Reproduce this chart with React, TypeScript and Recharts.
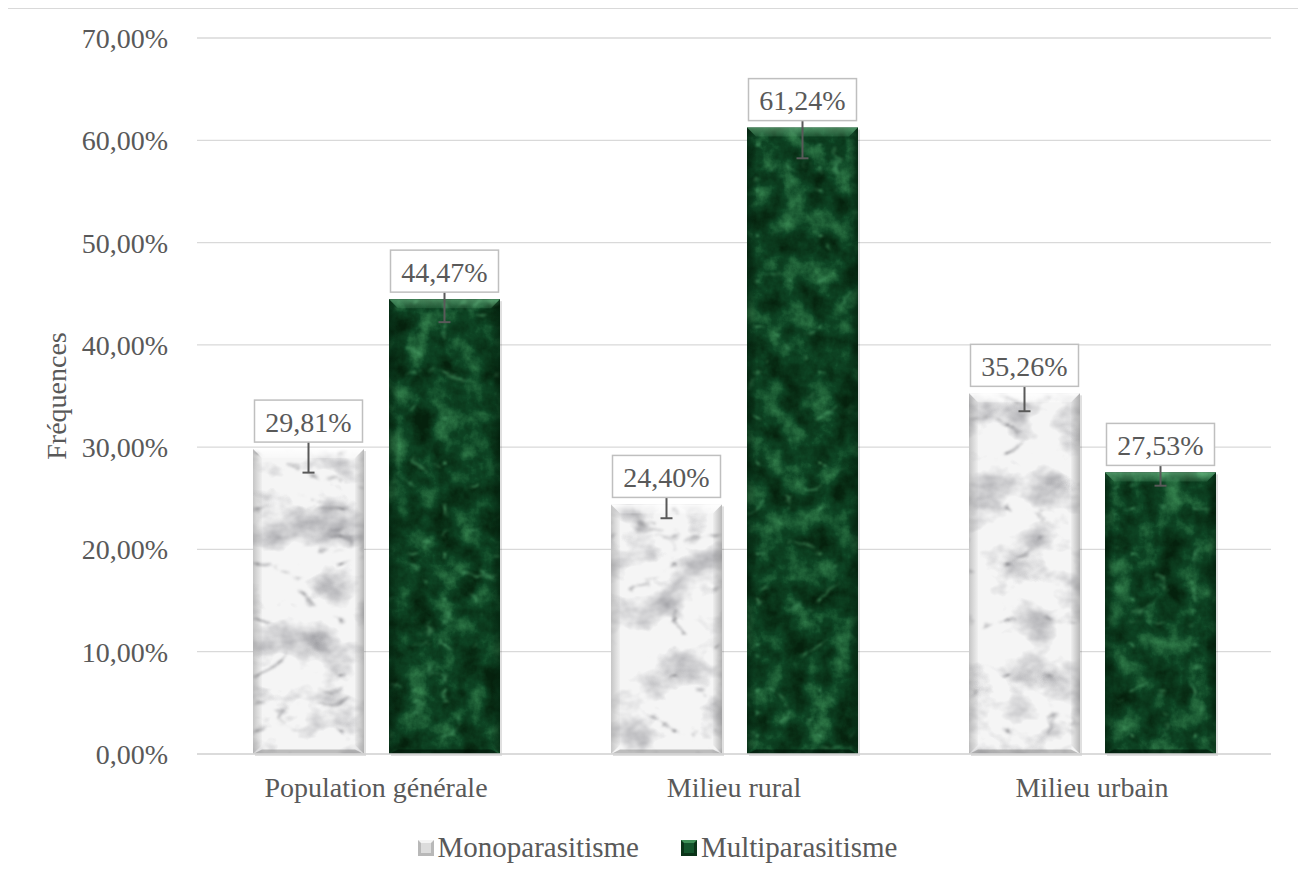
import { BarChart, Bar, XAxis, YAxis, CartesianGrid, Legend, LabelList, ErrorBar } from 'recharts';

const categories = ['Population générale', 'Milieu rural', 'Milieu urbain'];
const monoValues = [29.81, 24.4, 35.26];
const multiValues = [44.47, 61.24, 27.53];
const monoErrors = [2.3, 1.35, 1.75];
const multiErrors = [2.25, 3.0, 1.3];
const yTicks = [0, 10, 20, 30, 40, 50, 60, 70];

const data = categories.map((name, i) => ({
    name,
    mono: monoValues[i],
    multi: multiValues[i],
    monoErr: monoErrors[i],
    multiErr: multiErrors[i],
}));

const FONT = "'Liberation Serif', 'Times New Roman', serif";
const TEXT = '#595959';

const fmt = (v: number) => v.toFixed(2).replace('.', ',') + '%';

const styles = {
    white: {
        base: '#f2f2f2',
        filter: 'url(#marble-white)',
        top: 'url(#bevel-top-white)',
        left: 'url(#bevel-left-white)',
        right: 'url(#bevel-right-white)',
        bottom: 'rgba(120,120,120,0.45)',
    },
    green: {
        base: '#0e4424',
        filter: 'url(#marble-green)',
        top: 'url(#bevel-top-green)',
        left: 'url(#bevel-left-green)',
        right: 'url(#bevel-right-green)',
        bottom: 'rgba(0,15,5,0.55)',
    },
};

// bevelled block with a marble texture
const marbleShape = (kind: 'white' | 'green') => (props: any) => {
    const { x, y, width: w, height: h } = props;
    if (!(w > 0 && h > 0)) return null;
    const s = styles[kind];
    const b = Math.min(9, h / 2);
    return (
        <g>
            <rect x={x + 2} y={y + 2} width={w} height={h} fill="rgba(0,0,0,0.12)" />
            <rect x={x} y={y} width={w} height={h} fill={s.base} />
            <rect x={x} y={y} width={w} height={h} fill="#000" filter={s.filter} />
            <polygon points={`${x},${y} ${x + w},${y} ${x + w - b},${y + b} ${x + b},${y + b}`} fill={s.top} />
            <polygon points={`${x},${y} ${x + b},${y + b} ${x + b},${y + h - b} ${x},${y + h}`} fill={s.left} />
            <polygon points={`${x + w},${y} ${x + w - b},${y + b} ${x + w - b},${y + h - b} ${x + w},${y + h}`} fill={s.right} />
            <polygon points={`${x},${y + h} ${x + b},${y + h - b / 2} ${x + w - b},${y + h - b / 2} ${x + w},${y + h}`} fill={s.bottom} />
        </g>
    );
};

const ValueBox = (props: any) => {
    const { x, y, width, value } = props;
    const cx = x + width / 2;
    const bw = 108;
    const bh = 42;
    const top = y - 7 - bh;
    return (
        <g>
            <rect x={cx - bw / 2} y={top} width={bw} height={bh} fill="#fff" stroke="#bfbfbf" strokeWidth={1.5} />
            <text x={cx} y={top + bh / 2 + 1} textAnchor="middle" dominantBaseline="central" fontFamily={FONT} fontSize={28} fill={TEXT}>
                {fmt(value)}
            </text>
        </g>
    );
};

const YLabel = (props: any) => {
    const { viewBox } = props;
    const cx = viewBox.x + 48;
    const cy = viewBox.y + viewBox.height / 2;
    return (
        <text x={cx} y={cy} transform={`rotate(-90, ${cx}, ${cy})`} textAnchor="middle" dominantBaseline="central" fontFamily={FONT} fontSize={28} fill={TEXT}>
            Fréquences
        </text>
    );
};

const LegendIcon = ({ kind }: { kind: 'white' | 'green' }) => {
    const white = kind === 'white';
    return (
        <svg width={16} height={16} style={{ display: 'block' }}>
            <rect x={0} y={0} width={16} height={16} fill={white ? '#b8b8b8' : '#0a3318'} />
            <polygon points="0,0 16,0 8,8" fill={white ? '#f4f4f4' : '#3f8f58'} />
            <rect x={3} y={3} width={10} height={10} fill={white ? '#dcdcdc' : '#14552d'} />
        </svg>
    );
};

const renderLegend = () => (
    <div style={{ display: 'flex', justifyContent: 'center', alignItems: 'center', height: 55, paddingLeft: 36, fontFamily: FONT, fontSize: 29, color: TEXT }}>
        <div style={{ display: 'flex', alignItems: 'center', marginRight: 42 }}>
            <LegendIcon kind="white" />
            <span style={{ marginLeft: 4 }}>Monoparasitisme</span>
        </div>
        <div style={{ display: 'flex', alignItems: 'center' }}>
            <LegendIcon kind="green" />
            <span style={{ marginLeft: 4 }}>Multiparasitisme</span>
        </div>
    </div>
);

const Defs = () => (
    <svg width={0} height={0} style={{ position: 'absolute' }}>
        <defs>
            <filter id="marble-white" x="0" y="0" width="1" height="1" colorInterpolationFilters="sRGB">
                <feFlood floodColor="#f5f5f5" result="base" />
                <feTurbulence type="fractalNoise" baseFrequency="0.02 0.026" numOctaves={4} seed={7} result="cloud" />
                <feColorMatrix in="cloud" type="matrix" values="0 0 0 0 0.6  0 0 0 0 0.6  0 0 0 0 0.62  -2.2 0 0 0 1.15" result="shade" />
                <feTurbulence type="turbulence" baseFrequency="0.012 0.018" numOctaves={4} seed={11} result="vn" />
                <feColorMatrix in="vn" type="matrix" values="0 0 0 0 0.42  0 0 0 0 0.42  0 0 0 0 0.44  -5 0 0 0 0.65" result="veins" />
                <feGaussianBlur in="veins" stdDeviation="1.1" result="veinsB" />
                <feMerge result="tex">
                    <feMergeNode in="base" />
                    <feMergeNode in="shade" />
                    <feMergeNode in="veinsB" />
                </feMerge>
                <feComposite in="tex" in2="SourceAlpha" operator="in" />
            </filter>
            <filter id="marble-green" x="0" y="0" width="1" height="1" colorInterpolationFilters="sRGB">
                <feFlood floodColor="#0e4625" result="base" />
                <feTurbulence type="fractalNoise" baseFrequency="0.04" numOctaves={5} seed={3} result="cloud" />
                <feColorMatrix in="cloud" type="matrix" values="0 0 0 0 0.02  0 0 0 0 0.13  0 0 0 0 0.05  -2.6 0 0 0 1.45" result="dark" />
                <feColorMatrix in="cloud" type="matrix" values="0 0 0 0 0.24  0 0 0 0 0.56  0 0 0 0 0.34  2.4 0 0 0 -1.3" result="light" />
                <feTurbulence type="turbulence" baseFrequency="0.016 0.022" numOctaves={4} seed={9} result="vn" />
                <feColorMatrix in="vn" type="matrix" values="0 0 0 0 0.38  0 0 0 0 0.74  0 0 0 0 0.5  -5 0 0 0 0.6" result="veins" />
                <feGaussianBlur in="veins" stdDeviation="0.9" result="veinsB" />
                <feMerge result="tex">
                    <feMergeNode in="base" />
                    <feMergeNode in="dark" />
                    <feMergeNode in="light" />
                    <feMergeNode in="veinsB" />
                </feMerge>
                <feComposite in="tex" in2="SourceAlpha" operator="in" />
            </filter>
            <linearGradient id="bevel-top-white" x1="0" y1="0" x2="0" y2="1">
                <stop offset="0" stopColor="#ffffff" stopOpacity={0.9} />
                <stop offset="1" stopColor="#ffffff" stopOpacity={0.3} />
            </linearGradient>
            <linearGradient id="bevel-left-white" x1="0" y1="0" x2="1" y2="0">
                <stop offset="0" stopColor="#8c8c8c" stopOpacity={0.45} />
                <stop offset="1" stopColor="#8c8c8c" stopOpacity={0.05} />
            </linearGradient>
            <linearGradient id="bevel-right-white" x1="1" y1="0" x2="0" y2="0">
                <stop offset="0" stopColor="#7a7a7a" stopOpacity={0.5} />
                <stop offset="1" stopColor="#7a7a7a" stopOpacity={0.05} />
            </linearGradient>
            <linearGradient id="bevel-top-green" x1="0" y1="0" x2="0" y2="1">
                <stop offset="0" stopColor="#7fcf98" stopOpacity={0.55} />
                <stop offset="1" stopColor="#7fcf98" stopOpacity={0.15} />
            </linearGradient>
            <linearGradient id="bevel-left-green" x1="0" y1="0" x2="1" y2="0">
                <stop offset="0" stopColor="#021a0a" stopOpacity={0.5} />
                <stop offset="1" stopColor="#021a0a" stopOpacity={0.05} />
            </linearGradient>
            <linearGradient id="bevel-right-green" x1="1" y1="0" x2="0" y2="0">
                <stop offset="0" stopColor="#021a0a" stopOpacity={0.55} />
                <stop offset="1" stopColor="#021a0a" stopOpacity={0.05} />
            </linearGradient>
        </defs>
    </svg>
);

export default function App() {
    return (
        <div style={{ width: 1294, height: 880, marginLeft: -1, border: '1px solid #d9d9d9', boxSizing: 'border-box', background: '#fff' }}>
            <Defs />
            <BarChart width={1292} height={866} data={data} margin={{ top: 29, right: 29, bottom: 0, left: 0 }} barSize={111} barGap={25}>
                <CartesianGrid vertical={false} stroke="#d9d9d9" strokeWidth={1.3} />
                <XAxis
                    dataKey="name"
                    height={66}
                    axisLine={{ stroke: '#d9d9d9', strokeWidth: 1.5 }}
                    tickLine={false}
                    tickMargin={17}
                    tick={{ fill: TEXT, fontSize: 28, fontFamily: FONT }}
                />
                <YAxis
                    width={189}
                    domain={[0, 70]}
                    ticks={yTicks}
                    axisLine={false}
                    tickLine={false}
                    tickMargin={23}
                    tickFormatter={fmt}
                    tick={{ fill: TEXT, fontSize: 28, fontFamily: FONT }}
                    label={<YLabel />}
                />
                <Legend verticalAlign="bottom" height={55} content={renderLegend} />
                <Bar name="Monoparasitisme" dataKey="mono" fill="#f2f2f2" shape={marbleShape('white')} isAnimationActive={false}>
                    <ErrorBar dataKey="monoErr" width={6} stroke={TEXT} strokeWidth={2} direction="y" />
                    <LabelList dataKey="mono" content={<ValueBox />} />
                </Bar>
                <Bar name="Multiparasitisme" dataKey="multi" fill="#0f4a27" shape={marbleShape('green')} isAnimationActive={false}>
                    <ErrorBar dataKey="multiErr" width={6} stroke={TEXT} strokeWidth={2} direction="y" />
                    <LabelList dataKey="multi" content={<ValueBox />} />
                </Bar>
            </BarChart>
        </div>
    );
}
